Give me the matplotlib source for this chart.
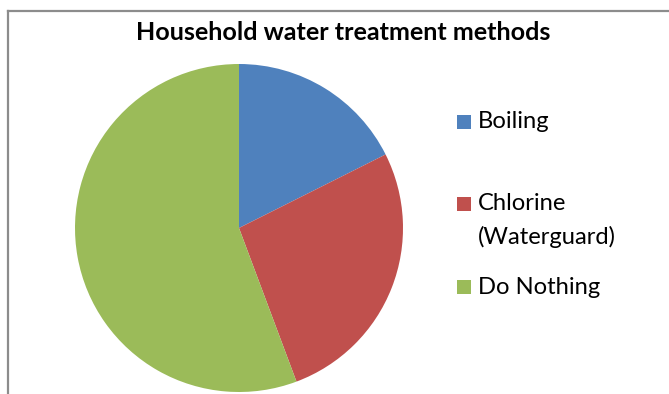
import matplotlib
matplotlib.use("Agg")
import matplotlib.pyplot as plt
from matplotlib.patches import Rectangle
from matplotlib.lines import Line2D

categories = ["Boiling", "Chlorine\n(Waterguard)", "Do Nothing"]
shares = [17.6, 26.7, 55.7]
colors = ["#4F81BD", "#C0504D", "#9BBB59"]
title = "Household water treatment methods"

W, H = 669, 394
fig = plt.figure(figsize=(W / 100, H / 100), dpi=100)
fig.patch.set_facecolor("white")

def fx(px):
    return px / W

def fy(py):
    return 1 - py / H

# chart frame (left and top edges visible)
fig.add_artist(Line2D([fx(7.5), fx(7.5)], [fy(11), -0.1], color="#8c8c8c", lw=1.6))
fig.add_artist(Line2D([fx(7.5), 1.1], [fy(11), fy(11)], color="#8c8c8c", lw=1.6))

# pie, centred at (239, 228) px with radius 164 px
cx, cy, r = 239, 228, 164
ax = fig.add_axes([fx(cx - r), fy(cy + r), (2 * r) / W, (2 * r) / H])
ax.pie(shares, colors=colors, startangle=90, counterclock=False,
       wedgeprops=dict(linewidth=0))
ax.set_xlim(-1, 1)
ax.set_ylim(-1, 1)
ax.set_aspect("auto")
ax.axis("off")

font = "Lato"
fig.text(fx(343.5), fy(32), title, ha="center", va="center",
         fontsize=18.1, fontweight="bold", family=font)

# legend entries
legend_y = [122, 204, 287]
for lab, col, y in zip(categories, colors, legend_y):
    s = 14
    fig.add_artist(Rectangle((fx(457), fy(y + s / 2)), s / W, s / H,
                             facecolor=col, edgecolor="none"))
    lines = lab.split("\n")
    for i, ln in enumerate(lines):
        fig.text(fx(478), fy(y + i * 33), ln, ha="left", va="center",
                 fontsize=17.1, family=font)

fig.savefig("out.png", dpi=100, facecolor="white")
